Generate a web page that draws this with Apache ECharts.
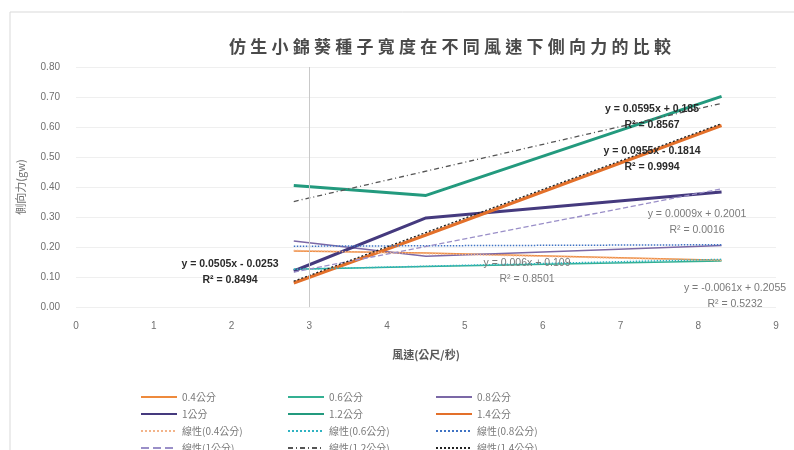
<!DOCTYPE html>
<html>
<head>
<meta charset="utf-8">
<script src="https://cdn.jsdelivr.net/npm/echarts@6/dist/echarts.min.js"></script>
<style>
  html, body { margin: 0; padding: 0; background: #ffffff; }
  #chart { width: 794px; height: 450px; }
</style>
</head>
<body>
<div id="chart"></div>
<script>
// Wind speeds (m/s) at which the lateral force was measured
var windSpeed = [2.8, 4.5, 8.3];

// Lateral force (gw) for each seed width
var names = ['0.4公分', '0.6公分', '0.8公分', '1公分', '1.2公分', '1.4公分'];
var force04 = [0.187, 0.180, 0.156];
var force06 = [0.126, 0.135, 0.153];
var force08 = [0.220, 0.169, 0.205];
var force10 = [0.120, 0.297, 0.383];
var force12 = [0.405, 0.372, 0.702];
var force14 = [0.080, 0.240, 0.605];

// Linear trendline coefficients (slope, intercept) and R² for each width
var trendSlope     = [-0.0061, 0.006, 0.0009, 0.0505, 0.0595, 0.0955];
var trendIntercept = [0.2055, 0.109, 0.2001, -0.0253, 0.185, -0.1814];
var trendR2        = ['0.5232', '0.8501', '0.0016', '0.8494', '0.8567', '0.9994'];

var xTicks = [0, 9, 1];
var yTicks = [0, 0.8, 0.1];

var forces = [force04, force06, force08, force10, force12, force14];
var colors = ['#ee8a3c', '#34b092', '#7b68a6', '#453a7e', '#239a7e', '#e3702a'];
var widths = [1.5, 1.5, 1.5, 3, 3, 3];
var trendColors = ['#f3b48a', '#2fb3c2', '#3f73c4', '#9a8fc8', '#555555', '#222222'];
var trendTypes = ['dotted', 'dotted', 'dotted', 'dashed', [5, 3, 1, 3], [2, 2]];

function pairs(ys) {
  return windSpeed.map(function (x, i) { return [x, ys[i]]; });
}
function trendPoints(k) {
  var x0 = windSpeed[0], x1 = windSpeed[windSpeed.length - 1];
  return [[x0, trendSlope[k] * x0 + trendIntercept[k]],
          [x1, trendSlope[k] * x1 + trendIntercept[k]]];
}
function fmt(v) {
  return (v < 0 ? '- ' : '+ ') + Math.abs(v);
}
function eqText(k) {
  var s = trendSlope[k];
  return 'y = ' + (s < 0 ? '-' : '') + Math.abs(s) + 'x ' + fmt(trendIntercept[k]);
}

var series = [];
forces.forEach(function (ys, k) {
  series.push({
    name: names[k], type: 'line', data: pairs(ys),
    symbol: 'none', z: 3,
    lineStyle: { color: colors[k], width: widths[k] },
    itemStyle: { color: colors[k] }
  });
});
forces.forEach(function (ys, k) {
  series.push({
    name: '線性(' + names[k] + ')', type: 'line', data: trendPoints(k),
    symbol: 'none', z: 4,
    lineStyle: { color: trendColors[k], width: k >= 3 ? 1.3 : 1.5, type: trendTypes[k] },
    itemStyle: { color: trendColors[k] }
  });
});
// vertical reference line at 3 m/s
series[0].markLine = {
  silent: true, symbol: 'none', label: { show: false },
  lineStyle: { color: '#c9c9c9', width: 1, type: 'solid' },
  data: [{ xAxis: 3 }]
};

function legendCol(left, items) {
  return {
    orient: 'vertical', left: left, top: 385, height: 100,
    icon: 'inherit',
    itemWidth: 36, itemHeight: 8, itemGap: 3,
    itemStyle: { opacity: 0 },
    textStyle: { fontSize: 10, color: '#7a7a7a', lineHeight: 14, fontFamily: 'Noto Sans CJK TC' },
    data: items
  };
}

// positions of the trendline equation labels
var labelPos = [[735, 296], [527, 271], [697, 222], [230, 272], [652, 117], [652, 159]];
var labelDark = [false, false, false, true, true, true];
var graphics = [{
  type: 'rect', shape: { x: 10, y: 12, width: 800, height: 460 },
  style: { fill: 'none', stroke: '#d9d9d9', lineWidth: 1 }, silent: true
}];
labelPos.forEach(function (p, k) {
  var c = labelDark[k] ? '#2a2a2a' : '#7a7a7a';
  graphics.push({
    type: 'text', x: p[0], y: p[1], z: 10,
    style: { text: eqText(k) + '\nR² = ' + trendR2[k], textAlign: 'center', textVerticalAlign: 'middle',
             fill: c, fontSize: 10.5, lineHeight: 16, fontFamily: 'Liberation Sans',
             fontWeight: labelDark[k] ? 'bold' : 'normal' }
  });
});

var titleText = '仿生小錦葵種子寬度在不同風速下側向力的比較'.split('').join('\u2005');

var chart = echarts.init(document.getElementById('chart'));
chart.setOption({
  backgroundColor: '#ffffff',
  animation: false,
  title: {
    text: titleText, left: 445, top: 33, textAlign: 'center',
    textStyle: { fontSize: 17, fontWeight: 'bold', color: '#4a4a4a', fontFamily: 'Noto Sans CJK TC' }
  },
  legend: [
    legendCol(135, [names[0], names[3], '線性(' + names[0] + ')', '線性(' + names[3] + ')']),
    legendCol(282, [names[1], names[4], '線性(' + names[1] + ')', '線性(' + names[4] + ')']),
    legendCol(430, [names[2], names[5], '線性(' + names[2] + ')', '線性(' + names[5] + ')'])
  ],
  grid: { left: 76, right: 18, top: 67, bottom: 143 },
  xAxis: {
    type: 'value', min: xTicks[0], max: xTicks[1], interval: xTicks[2],
    name: '風速(公尺/秒)', nameLocation: 'middle', nameGap: 42,
    nameTextStyle: { fontSize: 11, fontWeight: 'bold', color: '#595959', fontFamily: 'Noto Sans CJK TC' },
    axisLine: { show: false }, axisTick: { show: false },
    splitLine: { show: false },
    axisLabel: { fontSize: 10, color: '#707070', margin: 14, fontFamily: 'Liberation Sans' }
  },
  yAxis: {
    type: 'value', min: yTicks[0], max: yTicks[1], interval: yTicks[2],
    name: '側向力(gw)', nameLocation: 'middle', nameGap: 50, nameRotate: 90,
    nameTextStyle: { fontSize: 11, color: '#707070', fontFamily: 'Noto Sans CJK TC' },
    axisLine: { show: false }, axisTick: { show: false },
    splitLine: { show: true, lineStyle: { color: '#efefef', width: 1 } },
    axisLabel: { fontSize: 10, color: '#707070', margin: 16, fontFamily: 'Liberation Sans',
                 formatter: function (v) { return v.toFixed(2); } }
  },
  graphic: graphics,
  series: series
});
</script>
</body>
</html>
